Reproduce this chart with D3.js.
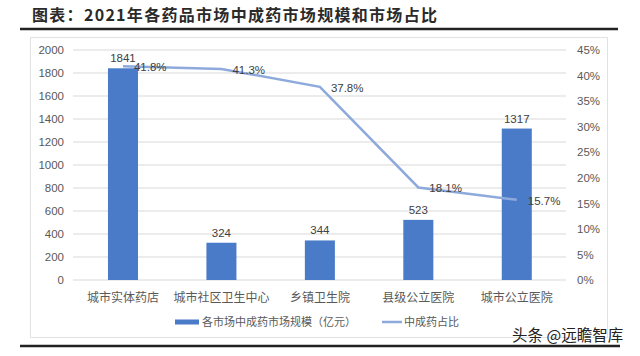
<!DOCTYPE html>
<html><head><meta charset="utf-8">
<script src="https://cdn.jsdelivr.net/npm/d3@7/dist/d3.min.js"></script>
<style>body{margin:0;background:#fff}svg{display:block}</style>
</head><body>
<svg id="c" width="640" height="356"></svg>
<script>
const categories = ["城市实体药店","城市社区卫生中心","乡镇卫生院","县级公立医院","城市公立医院"];
const marketSize = [1841, 324, 344, 523, 1317];
const share = [41.8, 41.3, 37.8, 18.1, 15.7];
const leftTicks = [0,200,400,600,800,1000,1200,1400,1600,1800,2000];
const rightTicks = [0,5,10,15,20,25,30,35,40,45];
const title = "图表：2021年各药品市场中成药市场规模和市场占比";
const legendLabels = ["各市场中成药市场规模（亿元）","中成药占比"];
const watermark = "头条 @远瞻智库";

const svg = d3.select("#c");
const sans = "Liberation Sans, Arial, sans-serif";
const cjk = "'Noto Sans CJK SC', sans-serif";
const barColor = "#4a7bc8", lineColor = "#8eaadc", txt = "#595959";

// title
svg.append("text").attr("x",32).attr("y",21).text(title)
  .attr("font-family",cjk).attr("font-size",16).attr("font-weight",700)
  .attr("letter-spacing",1.3).attr("fill","#2a2a2a");
svg.append("line").attr("x1",20).attr("x2",618).attr("y1",29).attr("y2",29)
  .attr("stroke","#222").attr("stroke-width",2.5);
// frame
svg.append("rect").attr("x",30.5).attr("y",37.5).attr("width",577).attr("height",300)
  .attr("fill","none").attr("stroke","#e2e2e2");

const x = d3.scaleBand().domain(categories).range([73.75,566]).paddingInner(0.695).paddingOuter(0.3475);
const y = d3.scaleLinear().domain([0,2000]).range([280,50]);
const y2 = d3.scaleLinear().domain([0,45]).range([280,50]);

// grid
svg.append("g").selectAll("line").data(leftTicks).join("line")
  .attr("x1",73).attr("x2",566).attr("y1",d=>y(d)).attr("y2",d=>y(d))
  .attr("stroke","#d9d9d9").attr("stroke-width",1);

const la = svg.append("g").attr("transform","translate(68,0)")
  .call(d3.axisLeft(y).tickValues(leftTicks).tickSize(0).tickPadding(4).tickFormat(d3.format("d")));
la.select(".domain").remove();
la.selectAll("text").attr("font-family",sans).attr("font-size",11.5).attr("fill",txt);

const ra = svg.append("g").attr("transform","translate(573,0)")
  .call(d3.axisRight(y2).tickValues(rightTicks).tickSize(0).tickPadding(4).tickFormat(d=>d+"%"));
ra.select(".domain").remove();
ra.selectAll("text").attr("font-family",sans).attr("font-size",11.5).attr("fill",txt);

const ba = svg.append("g").attr("transform","translate(0,280)")
  .call(d3.axisBottom(x).tickSize(0).tickPadding(13));
ba.select(".domain").remove();
ba.selectAll("text").attr("font-family",cjk).attr("font-size",12).attr("fill",txt);

// bars
svg.append("g").selectAll("rect").data(marketSize).join("rect")
  .attr("x",(d,i)=>x(categories[i])).attr("width",x.bandwidth())
  .attr("y",d=>y(d)).attr("height",d=>280-y(d)).attr("fill",barColor);
svg.append("g").selectAll("text").data(marketSize).join("text")
  .attr("x",(d,i)=>x(categories[i])+x.bandwidth()/2).attr("y",d=>y(d)-6)
  .attr("text-anchor","middle").text(d=>d)
  .attr("font-family",sans).attr("font-size",11.5).attr("fill","#404040");

// line
const cx = i => x(categories[i])+x.bandwidth()/2;
svg.append("path").datum(share)
  .attr("d",d3.line().x((d,i)=>cx(i)).y(d=>y2(d)))
  .attr("fill","none").attr("stroke",lineColor).attr("stroke-width",2.5);
svg.append("g").selectAll("text").data(share).join("text")
  .attr("x",(d,i)=>cx(i)+11).attr("y",d=>y2(d)+5)
  .text(d=>d.toFixed(1)+"%")
  .attr("font-family",sans).attr("font-size",11.5).attr("fill","#404040");

// legend
svg.append("rect").attr("x",175).attr("y",319.5).attr("width",24).attr("height",5).attr("fill",barColor);
svg.append("text").attr("x",202).attr("y",326).text(legendLabels[0])
  .attr("font-family",cjk).attr("font-size",11).attr("fill",txt);
svg.append("line").attr("x1",382).attr("x2",402).attr("y1",322).attr("y2",322)
  .attr("stroke",lineColor).attr("stroke-width",2.5);
svg.append("text").attr("x",404).attr("y",326).text(legendLabels[1])
  .attr("font-family",cjk).attr("font-size",11).attr("fill",txt);

// bottom line & watermark
svg.append("line").attr("x1",20).attr("x2",620).attr("y1",346).attr("y2",346)
  .attr("stroke","#222").attr("stroke-width",2.5);
svg.append("text").attr("x",512).attr("y",341).text(watermark)
  .attr("font-family",cjk).attr("font-size",15.5).attr("fill","#222");
</script>
</body></html>
